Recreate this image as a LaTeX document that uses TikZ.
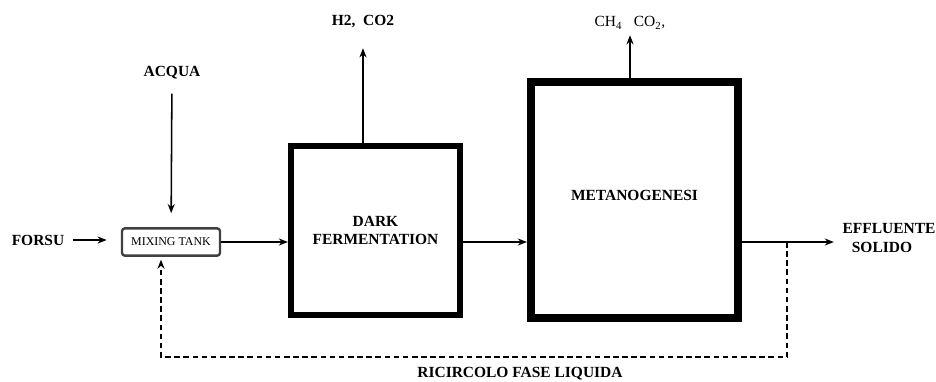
\documentclass[tikz,border=0pt]{standalone}
\usepackage{fontspec}
\setmainfont{Liberation Serif}
\usetikzlibrary{arrows.meta}

\begin{document}
\begin{tikzpicture}[>={Stealth[length=6.5pt, width=5pt]}, x=0.025cm, y=-0.025cm,
    txt/.style={font=\bfseries\fontsize{11}{13}\selectfont, inner sep=2pt},
    gas/.style={font=\fontsize{11}{13}\selectfont, inner sep=2pt},
    reactor/.style={draw, align=center, font=\bfseries\fontsize{11}{13}\selectfont},
    flow/.style={->, line width=1.1pt},
    recycle/.style={->, line width=1.1pt, dash pattern=on 4pt off 2.5pt}]
  % Page frame, pixel units with y pointing down
  \useasboundingbox (0,0) rectangle (936,382);
  % Mixing tank and the two reactors
  \node[draw=black!75, line width=1.7pt, rounded corners=2pt, minimum width=2.45cm,
        minimum height=0.68cm, inner sep=1pt, font=\fontsize{8.5}{9}\selectfont]
        (mix) at (171,242) {MIXING TANK};
  \node[reactor, line width=4.3pt, minimum width=4.225cm, minimum height=4.225cm]
        (df) at (375.5,230.5) {DARK\\FERMENTATION};
  \node[reactor, line width=5.7pt, minimum width=5.175cm, minimum height=5.9cm]
        (meta) at (634.5,200) {\raisebox{0.25cm}{METANOGENESI}};
  % Inputs and outputs
  \node[txt] (forsu) at (38,240) {FORSU};
  \node[txt] (acqua) at (172,73) {ACQUA};
  \node[txt] (h2) at (363,22) {H2,\ \ CO2};
  \node[gas] (ch4) at (630,23) {CH\textsubscript{4}\ \ \ CO\textsubscript{2},};
  \node[txt, align=left] (eff) at (889,238) {EFFLUENTE\\\hspace{0.6em}SOLIDO};
  \node[txt] (ric) at (520,374) {RICIRCOLO FASE LIQUIDA};
  % Main line
  \draw[flow, shorten <=4pt, shorten >=10pt] (forsu) -- (mix.west |- forsu);
  \draw[flow, shorten <=8pt, shorten >=10pt] (acqua) -- (mix);
  \draw[flow] (mix.east) -- (mix.east -| df.west);
  \draw[flow] (df.east |- mix.east) -- (meta.west |- mix.east);
  \draw[flow, shorten >=4pt] (meta.east |- mix.east) -- (eff.west |- mix.east);
  % Gas outlets
  \draw[flow, shorten >=12pt] (df.north -| h2) -- (h2);
  \draw[flow, shorten >=2pt] (meta.north -| ch4) -- (ch4);
  % Liquid recycle back to the mixing tank
  \coordinate (split) at (787,0 |- mix.east);
  \coordinate (low) at (161,357);
  \draw[recycle, shorten >=2pt] (split) |- (low) -- (low |- mix.south);
\end{tikzpicture}
\end{document}
